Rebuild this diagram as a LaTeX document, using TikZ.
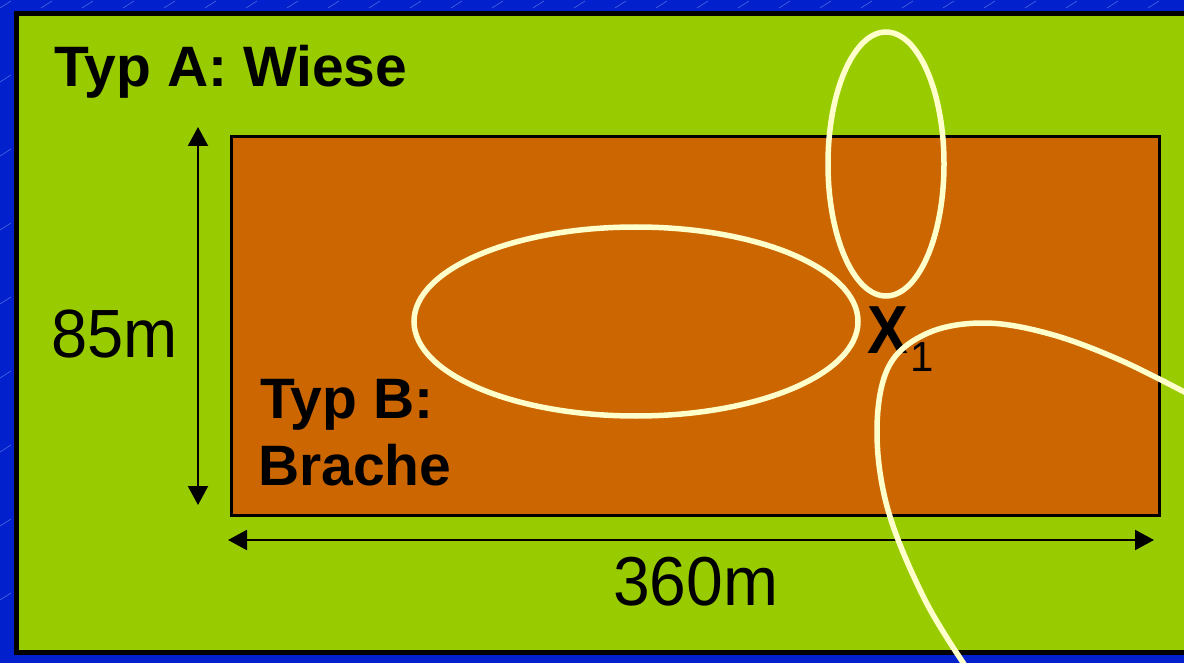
\documentclass[tikz,border=0pt]{standalone}
\usepackage{fontspec}
\setmainfont{Liberation Sans}
\usetikzlibrary{arrows.meta}
\definecolor{bgblue}{RGB}{2,32,204}
\definecolor{hatch}{RGB}{80,105,225}
\definecolor{meadow}{RGB}{153,204,0}
\definecolor{fallow}{RGB}{204,102,0}
\definecolor{cream}{RGB}{255,255,204}
\tikzset{
  lbl/.style={inner sep=0pt, anchor=base west, text=black},
  dimline/.style={line width=2.2pt, draw=black, {Triangle[length=19pt,width=20pt]}-{Triangle[length=19pt,width=20pt]}},
  loop/.style={draw=cream, line width=5.5pt},
}
\begin{document}
\begin{tikzpicture}[x=1pt,y=-1pt]
\useasboundingbox (0,0) rectangle (1184,663);
\fill[bgblue] (0,0) rectangle (1184,663);
\foreach \i in {0,...,30}{
  \foreach \j in {0,...,18}{
    \draw[hatch, line width=0.6pt] ({\i*41+mod(\j,2)*20},{\j*37+8}) -- ++(11,-7);
  }
}
% meadow
\node[draw=black, line width=5pt, fill=meadow, minimum width=1190pt, minimum height=638.5pt, anchor=north west, inner sep=0pt] (wiese) at (13.5,11.5) {};
% fallow
\node[draw=black, line width=2.6pt, fill=fallow, minimum width=928pt, minimum height=379pt, anchor=north west, inner sep=0pt] (brache) at (230,135) {};
% dimension arrows
\coordinate (vt) at (198,127);
\coordinate (vb) at (198,505);
\coordinate (hl) at (228,540);
\coordinate (hr) at (1154,540);
\draw[dimline] (vt) -- (vb);
\draw[dimline] (hl) -- (hr);
% texts
\node[lbl, font=\fontsize{57}{67}\bfseries\selectfont] (ta) at (54,87) {Typ A: Wiese};
\node[lbl, font=\fontsize{65}{70}\selectfont] (l85) at (51,357) {\scalebox{1}[1.05]{85m}};
\node[lbl, font=\fontsize{57}{67}\bfseries\selectfont] (tb1) at (260,418) {Typ B:};
\node[lbl, font=\fontsize{57}{67}\bfseries\selectfont] (tb2) at (258,485) {Brache};
\node[lbl, font=\fontsize{66}{70}\selectfont] (l360) at (613,605) {\scalebox{1}[1.05]{360m}};
\node[lbl, font=\fontsize{68}{70}\bfseries\selectfont] (x) at (867,353) {\scalebox{0.9}[1]{X}};
\node[lbl, font=\fontsize{42}{50}\selectfont] (x1) at (910,371) {1};
% search ellipses
\draw[loop] (636,321.5) ellipse [x radius=222, y radius=94.5];
\draw[loop] (886,164) ellipse [x radius=58, y radius=132];
\coordinate (cs) at (968,670);
\coordinate (ce) at (1192,396);
\draw[loop] plot[smooth, tension=0.6] coordinates {(cs) (925,600) (888,510) (877,430) (889,366) (928,333) (985,323) (1050,334) (1120,360) (ce)};
\end{tikzpicture}
\end{document}
